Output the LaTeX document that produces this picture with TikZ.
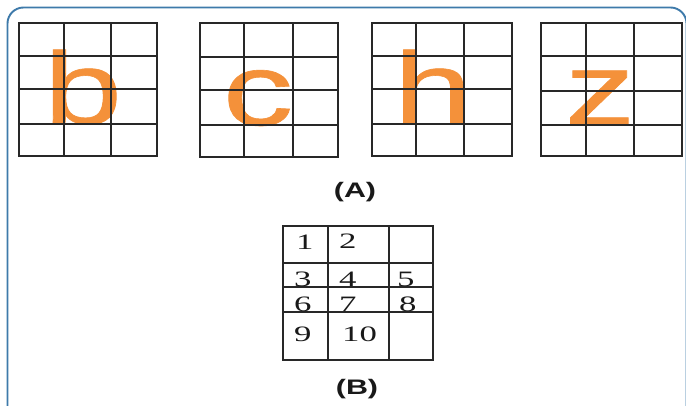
\documentclass[tikz,border=0pt]{standalone}
\usepackage{fontspec}
\setmainfont{Liberation Serif}
\newfontfamily\lettersans[FakeBold=0.6]{Liberation Sans}
\newfontfamily\capsans{Liberation Sans}
\definecolor{framec}{RGB}{62,122,170}
\definecolor{orangec}{RGB}{244,145,58}
\definecolor{gridc}{RGB}{40,40,40}
\tikzset{
  gridline/.style={draw=gridc, line width=1.3pt},
  bigletter/.style={anchor=base, inner sep=0pt, text=orangec, font=\lettersans\fontsize{102}{102}\selectfont},
  digit/.style={anchor=base west, inner sep=0pt, text=black!90, font=\fontsize{22}{22}\selectfont},
  caption/.style={anchor=center, inner sep=0pt, text=black!90, font=\capsans\bfseries\fontsize{21}{21}\selectfont}
}
\newcommand{\wideL}[1]{\scalebox{1.38}[1]{#1}}
\newcommand{\wideD}[1]{\scalebox{1.58}[1]{#1}}
\newcommand{\wideC}[1]{\scalebox{1.45}[1]{#1}}
\begin{document}
\begin{tikzpicture}[x=1pt,y=-1pt]
\useasboundingbox (0,0) rectangle (686,405);
\clip (0,0) rectangle (686,405);
\fill[white] (0,0) rectangle (686,405);
% frame
\draw[framec, line width=1.9pt, rounded corners=16pt] (7.5,7.5) rectangle (686.5,440);
% letters (under the grid lines)
\node[bigletter] (lb) at (83,123.5) {\wideL{b}};
\node[bigletter] (lc) at (258,125) {\wideL{c}};
\node[bigletter] (lh) at (433,123.5) {\wideL{h}};
\node[bigletter] (lz) at (600,124.5) {\wideL{z}};
% grids (A)
\foreach \xa/\xb/\xc/\xd/\ya/\yb/\yc/\yd/\ye in {
  19/64/111/157/23/56/89/124/156,
  200/244/293/338/23/57/90/125/157,
  372/416/464/512/23/56/89/124/156,
  541/586/634/682/23/56/91/125/156}{
  \draw[gridline] (\xa,\ya) rectangle (\xd,\ye);
  \draw[gridline] (\xb,\ya) -- (\xb,\ye) (\xc,\ya) -- (\xc,\ye);
  \draw[gridline] (\xa,\yb) -- (\xd,\yb) (\xa,\yc) -- (\xd,\yc) (\xa,\yd) -- (\xd,\yd);
}
\node[caption] (capA) at (355,192) {\wideC{(A)}};
% table (B)
\draw[gridline] (283,226) rectangle (433,360);
\draw[gridline] (328,226) -- (328,360) (389,226) -- (389,360);
\draw[gridline] (283,263) -- (433,263) (283,287) -- (433,287) (283,312) -- (433,312);
\node[digit] (d1) at (296,249) {\wideD{1}};
\node[digit] (d2) at (339,248) {\wideD{2}};
\node[digit] (d3) at (294,286) {\wideD{3}};
\node[digit] (d4) at (339,286) {\wideD{4}};
\node[digit] (d5) at (397,286) {\wideD{5}};
\node[digit] (d6) at (294,311) {\wideD{6}};
\node[digit] (d7) at (339,311) {\wideD{7}};
\node[digit] (d8) at (399,311) {\wideD{8}};
\node[digit] (d9) at (294,341) {\wideD{9}};
\node[digit] (d10) at (342,341) {\wideD{10}};
\node[caption] (capB) at (357,389) {\wideC{(B)}};
\end{tikzpicture}
\end{document}
